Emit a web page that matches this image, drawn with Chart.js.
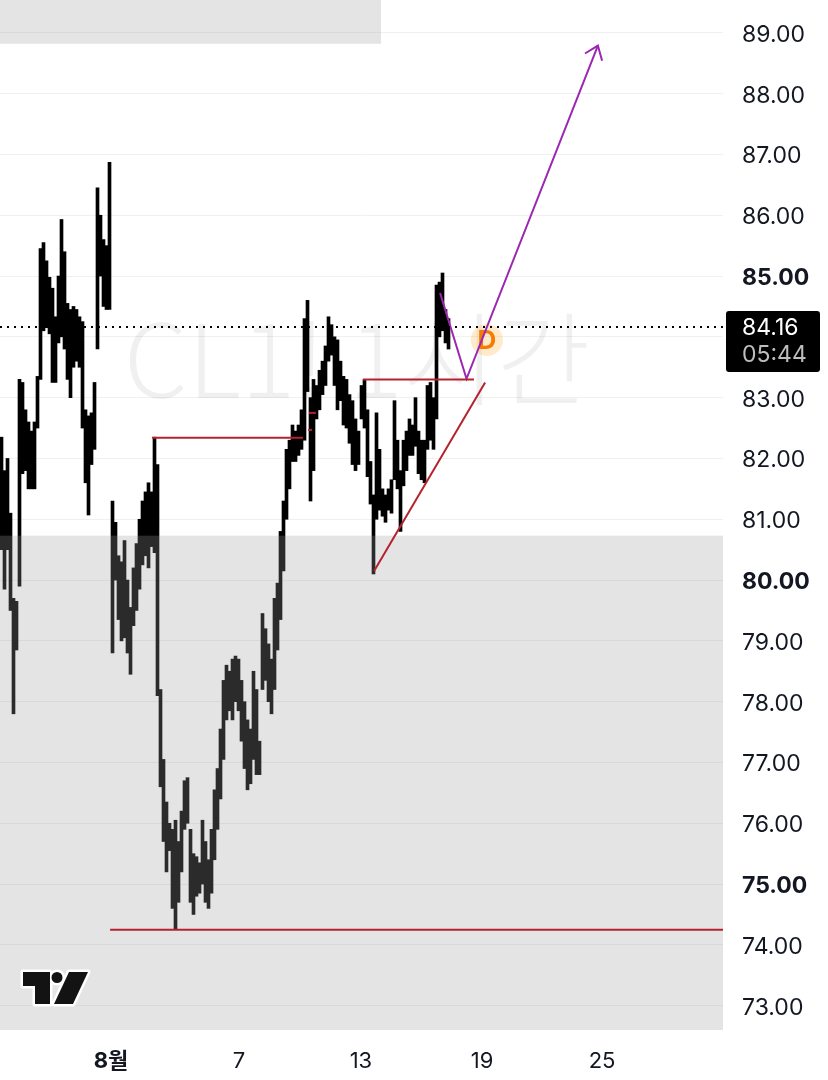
<!DOCTYPE html>
<html lang="ko">
<head>
  <meta charset="UTF-8">
  <title>CL1! 1시간</title>
  <script src="https://cdn.jsdelivr.net/npm/chart.js"></script>
  <style>
    body { margin: 0; background: #fff; }
    .wrap { position: relative; width: 828px; height: 1080px; }
  </style>
</head>
<body>
  <div class="wrap"><canvas id="chart"></canvas></div>

  <script>
    // x = bar slot (one slot ~ a few hourly bars), y = price
    const xTickPos = [37, 79.7, 120.3, 160.7, 200.7];
    const xTickLabels = ['8월', '7', '13', '19', '25'];
    const yTicks = [73, 74, 75, 76, 77, 78, 79, 80, 81, 82, 83, 84, 85, 86, 87, 88, 89];
    const boldPrices = [75, 80, 85];

    const barLow = [
      80.5, 79.85, 80.5, 79.5, 77.8, 78.85, 79.9, 81.75, 81.8, 81.5,
      81.5, 81.5, 82.5, 83.3, 84.1, 84.15, 84.05, 83.25, 83.25, 83.9,
      84.0, 83.8, 83.3, 83.0, 83.5, 83.6, 83.5, 82.5, 81.6, 81.07,
      81.9, 82.15, 83.8, 85.0, 84.5, 84.45, 84.45, 78.8, 80.0, 79.35,
      79.0, 79.05, 78.8, 78.45, 79.25, 79.5, 79.85, 80.25, 80.4, 80.2,
      80.55, 80.45, 78.1, 76.6, 75.7, 75.2, 75.55, 74.6, 74.25, 74.7,
      75.2, 75.9, 76.0, 74.7, 74.5, 74.8, 74.85, 75.0, 74.7, 74.6,
      74.85, 75.4, 75.9, 76.4, 77.05, 77.7, 77.85, 77.7, 78.0, 77.85,
      77.35, 76.9, 76.55, 76.65, 77.05, 76.8, 76.8, 78.2, 78.35, 78.0,
      77.8, 78.2, 78.85, 79.35, 80.15, 81.0, 81.5, 81.95, 81.95, 82.05,
      82.15, 82.3, 83.1, 81.3, 81.8, 82.65, 82.8, 83.05, 83.2, 83.6,
      83.7, 83.2, 82.8, 82.95, 82.55, 82.5, 82.25, 81.9, 81.8, 81.9,
      82.65, 82.5, 81.7, 81.25, 80.1, 81.0, 81.15, 81.05, 80.95, 81.15,
      81.1, 81.65, 81.5, 80.8, 81.55, 81.8, 82.05, 82.05, 82.2, 81.75,
      81.65, 81.6, 82.15, 82.3, 82.15, 82.65, 84.0, 84.1, 83.9, 83.8
    ];
    const barHigh = [
      82.35, 81.8, 82.0, 81.1, 79.7, 79.65, 83.3, 83.25, 82.8, 82.6,
      82.45, 82.6, 83.35, 85.45, 85.55, 85.25, 84.98, 84.8, 84.33, 85.0,
      85.93, 85.4, 84.55, 84.45, 84.5, 84.45, 84.33, 84.25, 82.8, 82.7,
      82.75, 83.25, 86.45, 86.0, 85.6, 85.5, 86.87, 81.3, 80.95, 80.4,
      80.3, 80.65, 80.0, 79.55, 80.2, 80.6, 81.0, 81.3, 81.45, 81.6,
      81.45, 82.35, 81.9, 78.2, 77.05, 76.35, 76.0, 75.9, 76.05, 75.7,
      76.2, 76.7, 76.75, 75.9, 75.5, 75.45, 75.35, 76.05, 75.7, 75.4,
      75.9, 76.55, 76.9, 77.55, 78.35, 78.6, 78.5, 78.7, 78.75, 78.7,
      78.35, 78.0, 77.7, 77.55, 78.5, 78.2, 77.35, 79.45, 79.2, 78.95,
      78.7, 79.7, 79.95, 80.8, 81.3, 82.15, 82.3, 82.55, 82.45, 82.55,
      82.8, 84.3, 84.6, 83.0, 83.3, 83.2, 83.45, 83.6, 83.85, 84.33,
      84.2, 84.0, 83.95, 83.6, 83.35, 83.3, 83.05, 82.95, 82.65, 82.45,
      83.2, 83.3, 82.8, 81.95, 81.4, 82.75, 82.15, 81.5, 81.4, 81.5,
      81.65, 82.95, 82.3, 81.8, 82.3, 82.45, 82.65, 82.55, 83.0, 82.45,
      82.3, 82.3, 83.2, 83.25, 83.0, 84.85, 84.9, 85.05, 84.45, 84.3
    ];

    const lastPrice = 84.16;
    const countdown = '05:44';

    // drawings: [xFrom, xTo, price]
    const levelLines = [[50.7, 101, 82.34], [36.7, 241, 74.25], [121, 158, 83.3]];
    const tickMarks = [[103, 105.3, 82.75], [102.7, 104, 82.47]];
    const trendLine = [[124.7, 80.15], [161.7, 83.25]];
    const forecastPath = [[146.7, 84.72], [155.5, 83.31], [199.3, 88.79]];
    const arrowHead = [[195, 88.66], [199.3, 88.79], [200.7, 88.54]];
    // grey zones: [xFrom, xTo, priceFrom, priceTo]
    const zones = [[0, 127, 88.82, 89.6], [0, 241, 72.6, 80.73]];
    const markerD = [162.3, 83.95];

    const FONT = "Inter, 'Noto Sans CJK KR', sans-serif";
    const RED = '#b5222f';
    const PURPLE = '#9c27b0';

    function lineSet(points, color, width, dash) {
      return {
        type: 'line',
        data: points.map(p => ({ x: p[0], y: p[1] })),
        borderColor: color,
        borderWidth: width,
        borderDash: dash || [],
        pointRadius: 0,
        tension: 0,
        fill: false,
        order: 0
      };
    }

    const datasets = [{
      type: 'bar',
      label: 'candles',
      data: barLow.map((lo, i) => ({ x: i + 0.5, y: [lo, barHigh[i]] })),
      backgroundColor: '#000',
      barThickness: 3,
      order: 10
    }];
    datasets.push(lineSet([[0, lastPrice], [241, lastPrice]], '#000', 2, [2, 5]));
    levelLines.forEach(l => datasets.push(lineSet([[l[0], l[2]], [l[1], l[2]]], RED, 2)));
    tickMarks.forEach(l => datasets.push(lineSet([[l[0], l[2]], [l[1], l[2]]], RED, 2)));
    datasets.push(lineSet(trendLine, RED, 2));
    datasets.push(lineSet(forecastPath, PURPLE, 2));
    datasets.push(lineSet(arrowHead, PURPLE, 2));

    // watermark + D marker under the drawings
    const backdrop = {
      id: 'backdrop',
      beforeDatasetsDraw(chart) {
        const { ctx, scales: { x, y } } = chart;
        ctx.save();
        ctx.fillStyle = 'rgba(0,0,0,0.06)';
        ctx.font = "300 102px 'Noto Sans CJK KR', 'Noto Sans', sans-serif";
        ctx.textAlign = 'center';
        ctx.textBaseline = 'alphabetic';
        ctx.fillText('CL1! 1시간', 357, 398);

        const mx = x.getPixelForValue(markerD[0]);
        const my = y.getPixelForValue(markerD[1]);
        ctx.fillStyle = 'rgba(255,152,0,0.2)';
        ctx.beginPath();
        ctx.arc(mx, my, 16, 0, Math.PI * 2);
        ctx.fill();
        ctx.fillStyle = '#f57c00';
        ctx.font = "bold 26px " + FONT;
        ctx.textBaseline = 'middle';
        ctx.fillText('D', mx, my + 1);
        ctx.restore();
      }
    };

    // translucent grey zones drawn right after the candles
    const zonePlugin = {
      id: 'zones',
      afterDatasetDraw(chart, args) {
        if (args.meta.type !== 'bar') return;
        const { ctx, chartArea, scales: { x, y } } = chart;
        ctx.save();
        ctx.fillStyle = 'rgba(156,156,156,0.275)';
        zones.forEach(z => {
          const x0 = x.getPixelForValue(z[0]);
          const x1 = Math.min(x.getPixelForValue(z[1]), chartArea.right);
          const y0 = Math.min(y.getPixelForValue(z[2]), chartArea.bottom);
          const y1 = Math.max(y.getPixelForValue(z[3]), chartArea.top);
          ctx.fillRect(x0, y1, x1 - x0, y0 - y1);
        });
        ctx.restore();
      }
    };

    // last price tag and logo
    const overlay = {
      id: 'overlay',
      afterDraw(chart) {
        const { ctx, chartArea, scales: { y } } = chart;
        const py = y.getPixelForValue(lastPrice);
        ctx.save();
        ctx.fillStyle = '#000';
        ctx.beginPath();
        ctx.roundRect(chartArea.right + 3, py - 16, 94, 61, 3);
        ctx.fill();
        ctx.font = '23px ' + FONT;
        ctx.textAlign = 'left';
        ctx.textBaseline = 'middle';
        ctx.fillStyle = '#fff';
        ctx.fillText(lastPrice.toFixed(2), chartArea.right + 19, py + 1);
        ctx.fillStyle = '#bdbdbd';
        ctx.fillText(countdown, chartArea.right + 19, py + 28);

        // TradingView mark
        const shapes = () => {
          ctx.beginPath();
          ctx.moveTo(23, 972); ctx.lineTo(50, 972); ctx.lineTo(50, 1004);
          ctx.lineTo(35, 1004); ctx.lineTo(35, 986); ctx.lineTo(23, 986); ctx.closePath();
          ctx.moveTo(62.5, 977.5); ctx.arc(57, 977.5, 5.5, 0, Math.PI * 2);
          ctx.moveTo(69, 972); ctx.lineTo(88, 972); ctx.lineTo(73, 1004); ctx.lineTo(54, 1004); ctx.closePath();
        };
        shapes();
        ctx.strokeStyle = '#fff';
        ctx.lineWidth = 5;
        ctx.lineJoin = 'round';
        ctx.stroke();
        ctx.fillStyle = '#131313';
        ctx.fill();
        ctx.restore();
      }
    };

    new Chart(document.getElementById('chart'), {
      type: 'bar',
      data: { datasets },
      plugins: [backdrop, zonePlugin, overlay],
      options: {
        responsive: true,
        maintainAspectRatio: false,
        animation: false,
        layout: { padding: 0 },
        plugins: { legend: { display: false }, tooltip: { enabled: false } },
        scales: {
          x: {
            type: 'linear',
            min: 0,
            max: 241,
            offset: false,
            grid: { display: false },
            border: { display: false },
            afterBuildTicks: s => { s.ticks = xTickPos.map(v => ({ value: v })); },
            afterFit: s => { s.height = 50; s.paddingLeft = 0; s.paddingRight = 0; },
            ticks: {
              autoSkip: false,
              maxRotation: 0,
              padding: 10,
              color: '#131722',
              font: ctx => ({ family: FONT, size: 22, weight: ctx.index === 0 ? 'bold' : 'normal' }),
              callback: (v, i) => xTickLabels[i]
            }
          },
          y: {
            position: 'right',
            min: 72.6,
            max: 89.54,
            grid: { color: '#f0f0f0', drawTicks: false },
            border: { display: false },
            afterBuildTicks: s => { s.ticks = yTicks.map(v => ({ value: v })); },
            afterFit: s => { s.width = 105; s.paddingTop = 0; s.paddingBottom = 0; },
            ticks: {
              autoSkip: false,
              padding: 19,
              labelOffset: 2,
              color: '#131722',
              font: ctx => ({
                family: FONT,
                size: 23,
                weight: ctx.tick && boldPrices.includes(ctx.tick.value) ? 'bold' : 'normal'
              }),
              callback: v => v.toFixed(2)
            }
          }
        }
      }
    });
  </script>
</body>
</html>
